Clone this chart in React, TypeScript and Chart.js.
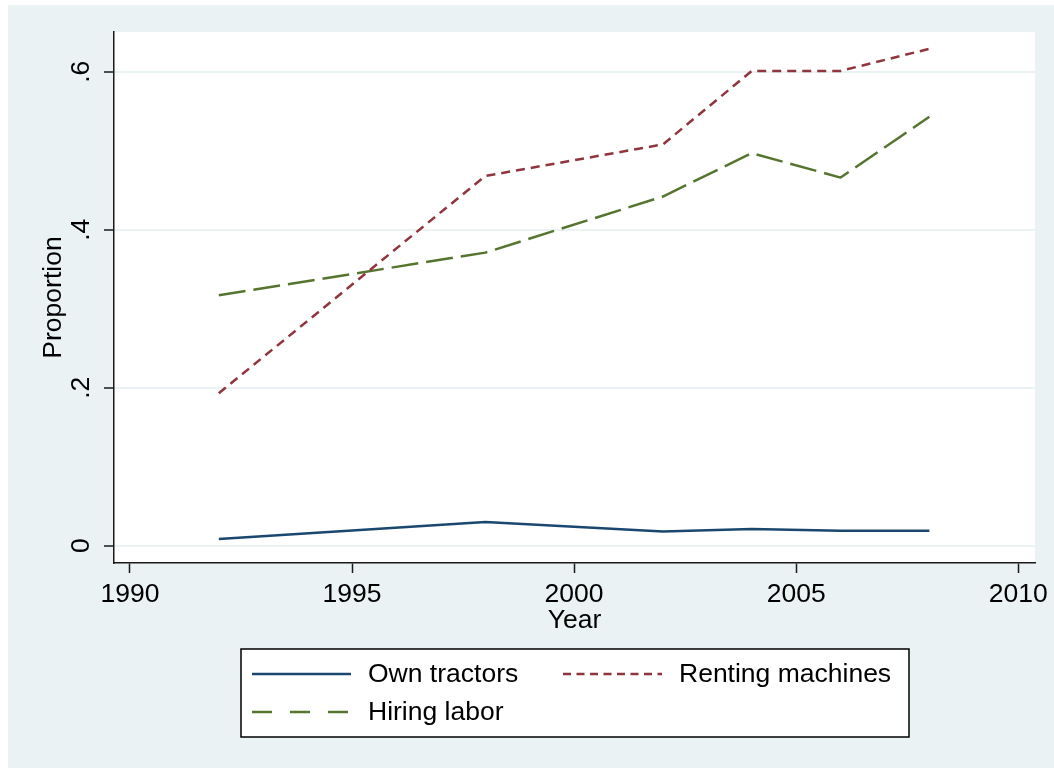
import React, { useEffect, useRef } from "react";
import { Chart, registerables } from "chart.js";

Chart.register(...registerables);

// ---- data ----
const years = [1992, 1998, 2002, 2004, 2006, 2008];
const ownTractors = [0.0085, 0.03, 0.018, 0.021, 0.019, 0.019];
const rentingMachines = [0.193, 0.468, 0.508, 0.601, 0.601, 0.629];
const hiringLabor = [0.317, 0.371, 0.442, 0.497, 0.466, 0.543];
const seriesNames = ["Own tractors", "Renting machines", "Hiring labor"];
const xTicks = [1990, 1995, 2000, 2005, 2010];
const xTickLabels = ["1990", "1995", "2000", "2005", "2010"];
const yTicks = [0, 0.2, 0.4, 0.6];
const yTickLabels = ["0", ".2", ".4", ".6"];
const xTitle = "Year";
const yTitle = "Proportion";

// ---- styles ----
const FONT = '"Liberation Sans", Arial, sans-serif';
const FS = 26.5;
const BG = "#EAF2F3";
const AXIS = "#1a1a1a";
const colors = ["#1A476F", "#90353B", "#55752F"];
const plotDash: number[][] = [[], [9, 6], [27, 8]];
const legendDash: number[][] = [[], [8, 5.5], [20, 18]];

const bgPlugin = {
  id: "stataBackground",
  beforeDraw(chart: any) {
    const { ctx, width, height, chartArea } = chart;
    ctx.save();
    ctx.fillStyle = "#ffffff";
    ctx.fillRect(0, 0, width, height);
    ctx.fillStyle = BG;
    ctx.fillRect(8, 5, width - 8, height - 6);
    ctx.fillStyle = "#ffffff";
    ctx.fillRect(
      chartArea.left,
      chartArea.top,
      chartArea.right - chartArea.left,
      chartArea.bottom - chartArea.top
    );
    ctx.restore();
  },
};

const legendPlugin = {
  id: "boxLegend",
  afterDraw(chart: any) {
    const { ctx, chartArea } = chart;
    const cx = (chartArea.left + chartArea.right) / 2;
    const w = 668;
    const h = 88;
    const x0 = Math.round(cx - w / 2);
    const y0 = chartArea.bottom + 86;
    ctx.save();
    ctx.fillStyle = "#ffffff";
    ctx.fillRect(x0, y0, w, h);
    ctx.strokeStyle = "#000000";
    ctx.lineWidth = 1.5;
    ctx.strokeRect(x0, y0, w, h);
    const slots = [
      { col: 0, row: 0 },
      { col: 1, row: 0 },
      { col: 0, row: 1 },
    ];
    const colX = [x0 + 11, x0 + 322];
    const rowY = [y0 + 25, y0 + 63];
    chart.data.datasets.forEach((ds: any, i: number) => {
      const s = slots[i];
      const lx = colX[s.col];
      const ly = rowY[s.row];
      ctx.beginPath();
      ctx.setLineDash(legendDash[i]);
      ctx.strokeStyle = ds.borderColor;
      ctx.lineWidth = 2.5;
      ctx.moveTo(lx, ly);
      ctx.lineTo(lx + 99, ly);
      ctx.stroke();
      ctx.setLineDash([]);
      ctx.fillStyle = "#000000";
      ctx.font = `${FS}px ${FONT}`;
      ctx.textBaseline = "middle";
      ctx.textAlign = "left";
      ctx.fillText(ds.label, lx + 116, ly + 1);
    });
    ctx.restore();
  },
};

export default function App() {
  const ref = useRef<HTMLCanvasElement | null>(null);

  useEffect(() => {
    if (!ref.current) return;
    const series = [ownTractors, rentingMachines, hiringLabor];
    const chart = new Chart(ref.current, {
      type: "line",
      data: {
        datasets: series.map((arr, i) => ({
          label: seriesNames[i],
          data: years.map((x, j) => ({ x, y: arr[j] })),
          borderColor: colors[i],
          backgroundColor: colors[i],
          borderWidth: 2.5,
          borderDash: plotDash[i],
          borderJoinStyle: "round",
          pointRadius: 0,
          fill: false,
          tension: 0,
        })),
      },
      options: {
        responsive: false,
        maintainAspectRatio: false,
        devicePixelRatio: 1,
        animation: false,
        events: [],
        layout: { padding: { left: 0, top: 32, right: 18, bottom: 0 } },
        plugins: {
          legend: { display: false },
          tooltip: { enabled: false },
        },
        scales: {
          x: {
            type: "linear",
            min: 1989.64,
            max: 2010.38,
            afterBuildTicks: (s: any) => {
              s.ticks = xTicks.map((v) => ({ value: v }));
            },
            afterFit: (s: any) => {
              s.height = 206;
            },
            grid: {
              drawOnChartArea: false,
              drawTicks: true,
              tickLength: 10,
              tickColor: AXIS,
              tickWidth: 1.5,
            },
            border: { color: AXIS, width: 1.5 },
            ticks: {
              color: "#000000",
              font: { family: FONT, size: FS },
              padding: 6,
              maxRotation: 0,
              minRotation: 0,
              autoSkip: false,
              callback: (_v: any, i: number) => xTickLabels[i],
            },
            title: {
              display: true,
              text: xTitle,
              color: "#000000",
              font: { family: FONT, size: FS, lineHeight: 1.2 },
              padding: { top: 0, bottom: 132 },
            },
          },
          y: {
            type: "linear",
            min: -0.0219,
            max: 0.6503,
            afterBuildTicks: (s: any) => {
              s.ticks = yTicks.map((v) => ({ value: v }));
            },
            afterFit: (s: any) => {
              s.width = 114;
            },
            grid: {
              color: BG,
              lineWidth: 2,
              drawTicks: true,
              tickLength: 10,
              tickColor: AXIS,
              tickWidth: 1.5,
            },
            border: { color: AXIS, width: 1.5 },
            ticks: {
              color: "#000000",
              font: { family: FONT, size: FS },
              minRotation: 90,
              maxRotation: 90,
              crossAlign: "center",
              padding: 11,
              autoSkip: false,
              callback: (_v: any, i: number) => yTickLabels[i],
            },
            title: {
              display: true,
              text: yTitle,
              color: "#000000",
              font: { family: FONT, size: FS, lineHeight: 1.2 },
              padding: { top: 38, bottom: 0 },
            },
          },
        },
      },
      plugins: [bgPlugin, legendPlugin],
    } as any);
    return () => chart.destroy();
  }, []);

  return (
    <div style={{ position: "fixed", left: 0, top: 0, width: 1054, height: 769 }}>
      <canvas ref={ref} width={1054} height={769} style={{ display: "block" }} />
    </div>
  );
}
